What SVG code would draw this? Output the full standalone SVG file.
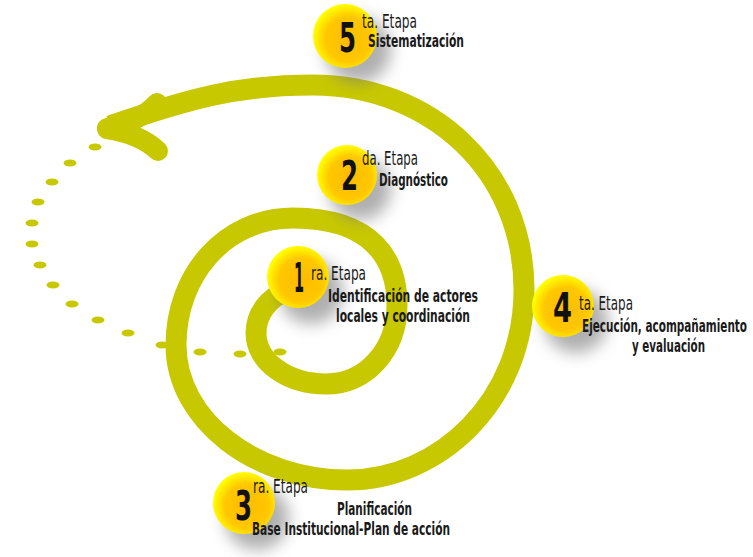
<svg xmlns="http://www.w3.org/2000/svg" width="753" height="557" viewBox="0 0 753 557">
  <style>
    .track { fill: none; stroke: #c8c800; stroke-width: 21; stroke-linecap: butt; }
    .barb { fill: none; stroke: #c8c800; stroke-width: 20; stroke-linecap: round; }
    .dot { fill: #c8c800; }
    .ball { fill: url(#ballGrad); }
    .shadow { fill: #7a7a7a; opacity: 0.6; filter: url(#soft); }
    .num { font-family: "Liberation Sans Narrow", "DejaVu Sans Condensed", "Liberation Sans", sans-serif; font-weight: bold; font-size: 40px; fill: #111; }
    .etapa { font-family: "Liberation Sans Narrow", "DejaVu Sans Condensed", "Liberation Sans", sans-serif; font-size: 19px; fill: #1a1a1a; }
    .desc { font-family: "Liberation Sans Narrow", "DejaVu Sans Condensed", "Liberation Sans", sans-serif; font-weight: bold; font-size: 17px; fill: #1a1a1a; }
  </style>
  <defs>
    <radialGradient id="ballGrad" cx="55%" cy="55%" r="55%">
      <stop offset="0%" stop-color="#ffbb00"/>
      <stop offset="65%" stop-color="#ffc800"/>
      <stop offset="100%" stop-color="#ffff00"/>
    </radialGradient>
    <filter id="soft" x="-60%" y="-60%" width="220%" height="220%">
      <feGaussianBlur stdDeviation="8"/>
    </filter>
  </defs>
  <rect x="0" y="0" width="753" height="557" fill="#ffffff"/>

  <g id="connectors">
    <g id="dots">
      <ellipse class="dot" cx="95" cy="147" rx="6.5" ry="3.5"/>
      <ellipse class="dot" cx="70" cy="163" rx="6.5" ry="3.5"/>
      <ellipse class="dot" cx="52" cy="182" rx="6.5" ry="3.5"/>
      <ellipse class="dot" cx="38" cy="202" rx="6.5" ry="3.5"/>
      <ellipse class="dot" cx="32" cy="223" rx="6.5" ry="3.5"/>
      <ellipse class="dot" cx="32" cy="244" rx="6.5" ry="3.5"/>
      <ellipse class="dot" cx="40" cy="265" rx="6.5" ry="3.5"/>
      <ellipse class="dot" cx="53" cy="285" rx="6.5" ry="3.5"/>
      <ellipse class="dot" cx="72" cy="304" rx="6.5" ry="3.5"/>
      <ellipse class="dot" cx="98" cy="320" rx="6.5" ry="3.5"/>
      <ellipse class="dot" cx="128" cy="333" rx="6.5" ry="3.5"/>
      <ellipse class="dot" cx="162" cy="345" rx="6.5" ry="3.5"/>
      <ellipse class="dot" cx="200" cy="352" rx="6.5" ry="3.5"/>
      <ellipse class="dot" cx="240" cy="354" rx="6.5" ry="3.5"/>
      <ellipse class="dot" cx="280" cy="352" rx="6.5" ry="3.5"/>
    </g>
    <path id="spiral" class="track" d="M 288,290 C 268,298 256,314 256,333 C 256,362 288,384 326,384 C 366,384 397,350 397,305 C 397,262 375,218 293,218 C 225,218 176,275 176,345 C 176,420 255,480 347,480 C 440,480 524,400 524,290 C 524,170 430,85 313,85 C 240,85 190,98 110,126"/>
    <path class="barb" d="M 107,128 Q 140,122 157,103"/>
    <path class="barb" d="M 107,129 Q 140,134 158,151"/>
  </g>

  <g id="stage5">
    <circle class="shadow" cx="358" cy="50" r="33"/>
    <circle class="ball" cx="345" cy="36" r="32"/>
    <text class="num" x="339" y="52" textLength="17" lengthAdjust="spacingAndGlyphs">5</text>
    <text class="etapa" x="362" y="28" textLength="55" lengthAdjust="spacingAndGlyphs">ta. Etapa</text>
    <text class="desc" x="368" y="47" textLength="96" lengthAdjust="spacingAndGlyphs">Sistematización</text>
  </g>

  <g id="stage2">
    <circle class="shadow" cx="360" cy="189" r="31"/>
    <circle class="ball" cx="347" cy="175" r="30"/>
    <text class="num" x="341" y="190" textLength="17" lengthAdjust="spacingAndGlyphs">2</text>
    <text class="etapa" x="362" y="165" textLength="56" lengthAdjust="spacingAndGlyphs">da. Etapa</text>
    <text class="desc" x="379" y="186" textLength="69" lengthAdjust="spacingAndGlyphs">Diagnóstico</text>
  </g>

  <g id="stage1">
    <circle class="shadow" cx="311" cy="292" r="32"/>
    <circle class="ball" cx="298" cy="277" r="31"/>
    <text class="num" x="294" y="292" textLength="10" lengthAdjust="spacingAndGlyphs">1</text>
    <text class="etapa" x="311" y="280" textLength="55" lengthAdjust="spacingAndGlyphs">ra. Etapa</text>
    <text class="desc" x="328" y="302" textLength="150" lengthAdjust="spacingAndGlyphs">Identificación de actores</text>
    <text class="desc" x="336" y="322" textLength="134" lengthAdjust="spacingAndGlyphs">locales y coordinación</text>
  </g>

  <g id="stage4">
    <circle class="shadow" cx="576" cy="321" r="32"/>
    <circle class="ball" cx="563" cy="306" r="31"/>
    <text class="num" x="553" y="322" textLength="19" lengthAdjust="spacingAndGlyphs">4</text>
    <text class="etapa" x="579" y="310" textLength="54" lengthAdjust="spacingAndGlyphs">ta. Etapa</text>
    <text class="desc" x="582" y="332" textLength="165" lengthAdjust="spacingAndGlyphs">Ejecución, acompañamiento</text>
    <text class="desc" x="632" y="352" textLength="73" lengthAdjust="spacingAndGlyphs">y evaluación</text>
  </g>

  <g id="stage3">
    <circle class="shadow" cx="257" cy="518" r="32"/>
    <circle class="ball" cx="244" cy="503" r="31"/>
    <text class="num" x="235" y="520" textLength="17" lengthAdjust="spacingAndGlyphs">3</text>
    <text class="etapa" x="253" y="493" textLength="55" lengthAdjust="spacingAndGlyphs">ra. Etapa</text>
    <text class="desc" x="337" y="515" textLength="75" lengthAdjust="spacingAndGlyphs">Planificación</text>
    <text class="desc" x="252" y="535" textLength="198" lengthAdjust="spacingAndGlyphs">Base Institucional-Plan de acción</text>
  </g>
</svg>
